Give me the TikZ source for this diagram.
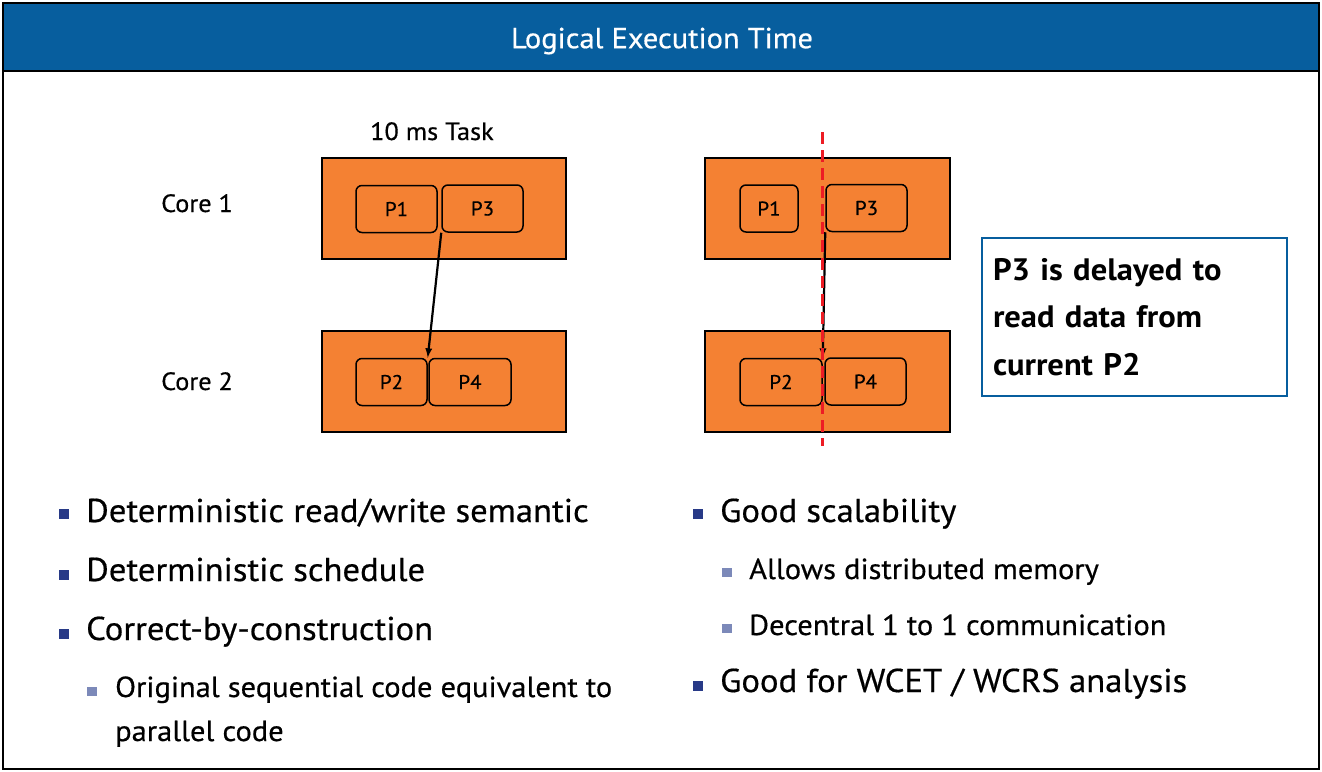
\documentclass[tikz,border=0pt]{standalone}
\usepackage{fontspec}
\setmainfont{PT Sans}[FakeStretch=1.05, UprightFeatures={FakeBold=0.5}]
\usepackage{tikz}
\tikzset{>=latex}
\usetikzlibrary{arrows}

\definecolor{barblue}{RGB}{7,94,158}
\definecolor{coreorange}{RGB}{244,129,51}
\definecolor{cutred}{RGB}{237,28,36}
\definecolor{dotblue}{RGB}{40,58,135}
\definecolor{subblue}{RGB}{124,137,185}

\tikzset{
    core/.style={draw=black, line width=2pt, fill=coreorange, minimum height=101pt, inner sep=0pt},
    proc/.style={draw=black, line width=1.5pt, rounded corners=6pt, minimum height=47pt, inner sep=0pt, font=\fontsize{20}{20}\selectfont},
    lbl/.style={anchor=base west, inner sep=0pt, font=\fontsize{25}{25}\selectfont},
    bigitem/.style={anchor=base west, inner sep=0pt, font=\fontsize{33}{33}\selectfont},
    smallitem/.style={anchor=base west, inner sep=0pt, align=left, font=\fontsize{29}{44}\selectfont},
}

\begin{document}
\begin{tikzpicture}[x=1pt, y=-1pt]
    \useasboundingbox (0,0) rectangle (1322,771);

    \coordinate (cutTop) at (822,132);
    \coordinate (cutBot) at (822,446);

    % Frame and title bar
    \draw[line width=2pt, fill=barblue] (3,3) rectangle (1319,71);
    \draw[line width=2pt] (3,71) rectangle (1319,769);
    \node[text=white, inner sep=0pt, font=\fontsize{29}{29}\selectfont] (title) at (662,41) {Logical Execution Time};

    % Left schedule
    \node[lbl] (task) at (370,140) {10 ms Task};
    \node[lbl] (core1) at (161,212) {Core 1};
    \node[lbl] (core2) at (161,390) {Core 2};
    \node[core, minimum width=244pt] (c1a) at (444,208.5) {};
    \node[core, minimum width=244pt] (c2a) at (444,381.5) {};
    \node[proc, minimum width=81pt] (p1a) at (396.5,209) {P1};
    \node[proc, minimum width=81pt] (p3a) at (482.5,208.5) {P3};
    \node[proc, minimum width=71pt] (p2a) at (391.5,382) {P2};
    \node[proc, minimum width=82pt] (p4a) at (470,382) {P4};
    \draw[->, line width=2.2pt] (p3a.south west) -- (p2a.north east);

    % Right schedule
    \node[core, minimum width=245pt] (c1b) at (827.5,208.5) {};
    \node[core, minimum width=245pt] (c2b) at (827.5,381.5) {};
    \node[proc, minimum width=58pt] (p1b) at (769,208.5) {P1};
    \node[proc, minimum width=81pt] (p3b) at (866.5,208) {P3};
    \node[proc, minimum width=82pt] (p2b) at (781,382) {P2};
    \node[proc, minimum width=81pt] (p4b) at (865.5,381.5) {P4};
    \draw[->, line width=2.2pt] (p3b.south west) -- (p2b.north east);
    \draw[cutred, line width=3pt, dash pattern=on 12pt off 6pt] (cutTop) -- (cutBot);

    % Note
    \node[draw=barblue, line width=1.5pt, minimum width=305pt, minimum height=158pt,
          text width=283pt, inner sep=11pt, align=left,
          font=\fontsize{31}{47.5}\selectfont\bfseries] (note) at (1134.5,317)
        {P3 is delayed to\\read data from\\current P2};

    % Bullets
    \foreach \y in {509,570,629} \fill[dotblue] (59,\y) rectangle ++(10,10);
    \fill[subblue] (87,687) rectangle ++(10,9);
    \node[bigitem] (b1) at (86,522) {Deterministic read/write semantic};
    \node[bigitem] (b2) at (86,581) {Deterministic schedule};
    \node[bigitem] (b3) at (86,640) {Correct-by-construction};
    \node[smallitem] (b3a) at (115,741) {Original sequential code equivalent to\\parallel code};

    \foreach \y in {509,681} \fill[dotblue] (693,\y) rectangle ++(10,10);
    \foreach \y in {568,624} \fill[subblue] (722,\y) rectangle ++(10,9);
    \node[bigitem] (r1) at (720,522) {Good scalability};
    \node[smallitem] (r1a) at (749,579) {Allows distributed memory};
    \node[smallitem] (r1b) at (749,635) {Decentral 1 to 1 communication};
    \node[bigitem] (r2) at (720,692) {Good for WCET / WCRS analysis};
\end{tikzpicture}
\end{document}
